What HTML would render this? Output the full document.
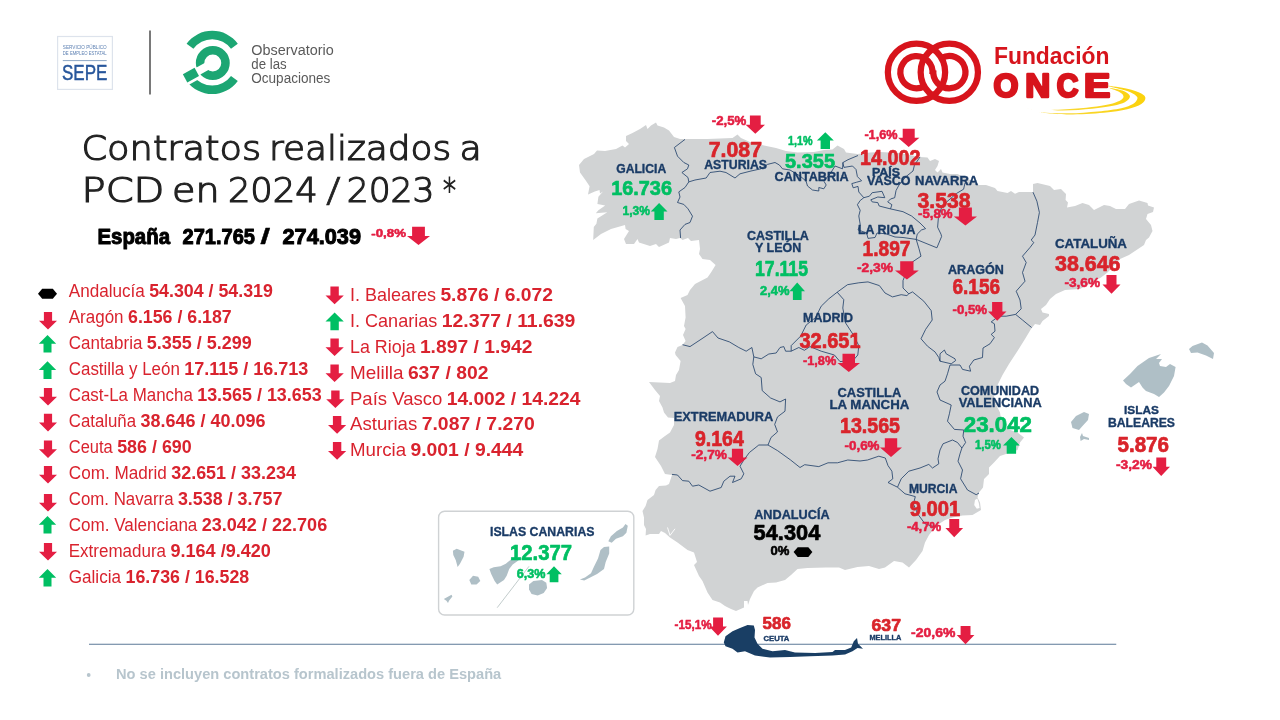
<!DOCTYPE html>
<html lang="es"><head><meta charset="utf-8"><title>Contratos realizados a PCD en 2024 / 2023</title>
<style>
html,body{margin:0;padding:0;background:#fff}
body{width:1280px;height:720px;overflow:hidden}
svg{display:block}
text{font-family:"Liberation Sans",sans-serif;white-space:pre}
text.dv{font-family:"DejaVu Sans",sans-serif}
</style></head><body>
<svg width="1280" height="720" viewBox="0 0 1280 720">
<polygon fill="#d1d3d4" points="593.2,239.9 593.8,226.9 596.4,223.8 597.4,218.5 607.3,212.3 595.8,213.3 598.4,210.2 605.2,205.5 597.4,204 598.4,196.7 603,191.5 600,193.5 599.5,190 594.8,191.5 588,194.6 589.6,186.2 585.4,180 580,172.5 579,165 584,159 594,154 597,150.6 605,151 616,149 622.5,145.6 625,147.5 629,144 626,141 626,136 632.5,133 640,129 646,125 647.5,129 651,125.6 656,122.5 657.5,125.6 664,127.5 669,130.6 674,137 680,139 685,139 695,139 707.5,139 720,138.5 732.5,138 737.5,134.4 741,138 751,142.5 764,145.6 776,148 786,151 797.5,152.5 814,152 824,150 832.5,149.4 837.5,145.6 844,149 846,152.5 857.5,154 870,152.5 880,152 900,153 920,157 927.5,157.5 930,161 935,159 939,161 937.5,166 935,170 937.5,172.5 941,169 942.5,172.5 950,174 957.5,174 970,180 979,185 986,185 995,188 997.5,191 1007.5,193 1011,191 1015,193.8 1019,192 1033,192 1033,184 1037.5,183 1050,186 1054,190 1061,189 1066,194 1065.6,200 1068,202.5 1067,207.5 1075,206 1082.5,203 1089,205 1094,210 1104,205 1110,206 1116,209 1125,209 1129,204 1139,200.6 1147.5,203 1148,205.6 1154,207.5 1153,212 1147.5,214 1146,219 1151,225 1152.5,231 1149,237.5 1146,240 1144,245 1135,251 1129,255 1120,259 1107.5,272.5 1101,277.5 1080,289 1065,290 1056,294 1050,299 1046,305 1041,309 1042.5,312.5 1049,314 1049,316 1042.5,321 1040,325 1035,324 1031,329 1025,339 1017.5,351 1009,364 1002.5,375 997.5,385 994,395 994,400 997.5,407.5 1000,412.5 1001,419 1007.5,429 1017.5,432.5 1024,437.5 1020,442.5 1017.5,450 1006,454 1000,456 994,462.5 989,467.5 989,474 984,479 983,487.5 979,492.5 977.5,497.5 980,502.5 981,510 972.5,515 962.5,515.6 952.5,517.5 945,520 936,526 929,535 925,542.5 922.5,551 916,560 909,567.5 902.5,562.5 894,561 885,567.5 879,569 869,566 857.5,567 845,570 839,567.5 826,567.5 807.5,568 797.5,569 791,575 785,580 776,582.5 767.5,583 757.5,587.5 754,591 750,599 748,605 747.5,601 744,601 744,607.5 736,611 731,609 725,606 720,602.5 712.5,600 707.5,592.5 702.5,581 699,576 694,565 697,562 694,552.5 687.5,550 677.5,542.5 670,537.5 665,533 661,531 659,534 650,534 645.6,535.6 646,529 644,525 644,517.5 642.5,511 645.6,506 647.5,500 654,495 655.6,490 659,486 666,485.6 669,484 672,475 665,474 661,466 655,457 657.5,449 659,440.6 665,436 670,432.5 674,425 674,418 668,417.5 664,412.5 662.5,407.5 659,401 660,396 655,390 649,382 670,383 675,381 676,375 679,370 680.6,361 675.6,355 675,352.5 677.5,347 682.5,345 685.6,341 683,335 685.6,329 684,326 685.6,317.5 685,306 680.6,298 687.5,295 690,290 695,284 707.5,277.5 711,272.5 715.6,265 710,260 702.5,259 699,254 700,249 699,240 691,241 688,238 682.5,240 680,238 676,239 670,238 669,242.5 659,247 656,244 650,246 639,242.5 637.5,239 634,244 626,244 624,239 629,231 625.6,229 625,225 611,229 601,234"/>
<polygon fill="#afbfc6" points="1123,380.6 1130,374 1137.5,366 1149,358 1161,354 1156,359 1162,359 1159,363 1160,366 1166,367 1170,364 1175.6,367 1174,376 1169,386 1164,392.5 1159,397 1154,394 1146,391 1142.5,387.5 1139,382 1131,387.5 1126,384"/>
<polygon fill="#afbfc6" points="1189,349 1192.5,346 1202,342.5 1207.5,345.6 1214,353 1213,359 1206,355.6 1197.5,352.5 1191,353"/>
<polygon fill="#afbfc6" points="1071,422 1076,416 1084,412 1089,414 1088,420 1082.5,426 1079,430 1072.5,428"/>
<polygon fill="#afbfc6" points="1082,433 1083,436 1089,438 1089,440 1084,439 1080.6,441 1080,437"/>
<polygon fill="#afbfc6" points="452.9,550.8 456.7,548.8 464.5,551.7 463.6,556.8 460,563.7 457.6,567 455.8,560.3 453.3,555"/>
<polygon fill="#afbfc6" points="469.3,580 473,575.8 478.2,576.7 480.3,581 476.5,584.4 471.3,584.4"/>
<polygon fill="#afbfc6" points="443.8,599 451.5,594.7 452.4,596.5 449,600.8 448,603 446.4,600.8"/>
<polygon fill="#afbfc6" points="489.4,568.9 493.7,567.2 500.6,566.3 505.8,563.7 511,559.4 516.1,557.7 518.7,560.3 512.7,564.6 509.2,568.9 506.7,575.8 504,580.1 497.2,584.4 494.6,581 491.2,574"/>
<polygon fill="#afbfc6" points="529,584.4 533.4,581 542,580.1 546.3,582.7 547.1,587.9 543.7,593 537.7,595.6 531.6,593.9 529,589.6"/>
<polygon fill="#afbfc6" points="579.9,579.6 585,577.5 591,573.2 593.7,567.2 598,558.6 600.5,550 604,546.9 609.2,546.5 609.2,553.4 605.7,562 604,568.9 597.1,574.1 590.2,577.5 584.2,580.6"/>
<polygon fill="#afbfc6" points="608.3,541.3 610.9,536.2 616.9,531 622.9,527.6 625.5,524.1 627.8,525.8 626.4,532.7 622.9,536.2 616,538.8 611.7,542.7"/>
<polyline fill="none" stroke="#1a3b66" stroke-width="0.8" stroke-linejoin="round" points="685,139.4 674.4,147.5 677.5,156.2 683.8,162.5 688.8,165 687.5,168.8 681.9,172.5 688,177.5 688.8,181.9 685,187.5 678.8,191.9 680,197 677.5,202.5 683.8,204.4 688,208.8 692.5,216.2 690,222.5 685,224.4 680,230 680.6,238"/>
<polyline fill="none" stroke="#1a3b66" stroke-width="0.8" stroke-linejoin="round" points="688.8,181.9 695,180 706.2,178 710,172.5 720,171.2 726,172.5 735,178 740,173.8 751,171 761,168.8 767.5,164.4 775,162.5 779.4,165 782.5,168.8 790,170 800,176 806,181 807.5,186 812.5,190 818.8,191 818.8,187.5 823.8,188.8 826.2,185 823.8,181 830,174 835,166 842.5,168.8 843,162.5 848,159.7 858,155.5"/>
<polyline fill="none" stroke="#1a3b66" stroke-width="0.8" stroke-linejoin="round" points="842.7,162.5 844,167.4 852.5,166 856,169.5 857.4,176.6 861.6,180.8 856.7,182.2 851.8,183.6 853.2,187.8 858,186.4 858.8,192 863.8,197.7 860.2,200.5 857.4,204.7 860.2,210.3 858.8,216 860.2,224.4 858,230 866.6,232.8 868,238.4 875,237.5 877,233 886,233.8 895,237 903,237.5 916.2,239.4"/>
<polyline fill="none" stroke="#1a3b66" stroke-width="0.8" stroke-linejoin="round" points="863.8,197.7 869.4,196.2 872.2,192.7 882,191.3 884.8,197.7 877.8,197 870.8,199.8 872.2,201.9 877.8,202.6 879.2,206 890.5,208.9 891.9,204.7 887.7,201.9 890.5,199 894.7,197.7 896,190.6 899,185 906,176.6 913,171 914.4,165.3 920,156.9"/>
<polyline fill="none" stroke="#1a3b66" stroke-width="0.8" stroke-linejoin="round" points="890.5,208.9 903,211.7 911.6,216 920,223 925.6,228.6 921.4,230 917.2,234.2 916.2,239.4 936.9,247.8 941.6,236.5 941,234.2 937.6,227.2 938.3,218.8 941,208.9 946.7,201.9 956.6,193.4 963.6,189.2 965,183"/>
<polyline fill="none" stroke="#1a3b66" stroke-width="0.8" stroke-linejoin="round" points="916.2,239.4 919,248.8 921,256.2 912.5,261.9 907,270 903,280.6 903,288 908.8,293.8"/>
<polyline fill="none" stroke="#1a3b66" stroke-width="0.8" stroke-linejoin="round" points="908.8,293.8 906.9,295.6 901.2,294.7 892.5,296.9 885,293 879.4,285.6 868,281.9 858.8,282.8 847.5,284.7 837.2,292.2"/>
<polyline fill="none" stroke="#1a3b66" stroke-width="0.8" stroke-linejoin="round" points="837.2,292.2 828.8,298.8 821.2,306.2 815.6,317.5 806.2,325 800.6,336.2 791.2,345.6 791.2,351.2 798.8,347.5 804.4,350.3 810,346.6 821.2,351.2 834.4,355 840,361.6 853,360.6 857.8,355 858.8,345.6 853,334.4 845.6,323 842.8,308 843.8,299.7 837.2,292.2"/>
<polyline fill="none" stroke="#1a3b66" stroke-width="0.8" stroke-linejoin="round" points="791.2,351.2 785.6,351.2 783.8,346.6 780,347.5 776.2,353 768.8,354 761.2,358.8 753.8,356.9 751.9,347.5 746.2,351.2 738.8,347.5 729.4,341.9 718,338 712.5,331.6 703,338 690,346.6 682.5,344.7"/>
<polyline fill="none" stroke="#1a3b66" stroke-width="0.8" stroke-linejoin="round" points="753.8,356.9 752.8,364.4 755.6,373.8 761.2,377.5 762.2,390.6 770.6,398 780,401.9 785.6,399 785,411.2 777.5,416.9 774.7,424.4 777.5,431.9 771,437.5 768,445"/>
<polyline fill="none" stroke="#1a3b66" stroke-width="0.8" stroke-linejoin="round" points="768,445 758.8,445 749.4,452.5 743.8,460 740,466.2 743.8,473.8 741.2,478.8 732.5,482.5 735,476.2 730,476.2 723.8,481.2 721.2,487.5 710,491.2 698.8,485 692.5,486.2 688.8,481.2 682.5,480.6 677.5,475 672,474.4"/>
<polyline fill="none" stroke="#1a3b66" stroke-width="0.8" stroke-linejoin="round" points="768,445 777.5,450.6 790.6,460 800,467.5 804.7,464.7 818.8,466.6 828,462.8 837.5,462.8 847.8,460 860,461 867.5,460 878.8,456.2 885.3,458 888,465.6 891.9,471.2 892.8,478.8 888,482.5 897.5,487.2"/>
<polyline fill="none" stroke="#1a3b66" stroke-width="0.8" stroke-linejoin="round" points="897.5,487.2 905,493.8 915.3,496.6 913.4,504 918,514.4 925,523.8 932,526.2 936,526"/>
<polyline fill="none" stroke="#1a3b66" stroke-width="0.8" stroke-linejoin="round" points="897.5,487.2 901.2,478.8 908.8,471.2 920,468 928.8,464.4 932.5,468 938.8,463.8 938,458.8 940,450 943,443.8 952.5,440 957.5,442.5 961.9,448"/>
<polyline fill="none" stroke="#1a3b66" stroke-width="0.8" stroke-linejoin="round" points="961.9,448 960,453.8 958,461.2 962.5,470 960.6,478.8 967.5,490 976.2,494.7 979,493"/>
<polyline fill="none" stroke="#1a3b66" stroke-width="0.8" stroke-linejoin="round" points="961.9,448 965.6,442.5 963,436.2 963.8,430 954.4,429.4 947.5,421.2 949.4,413.8 951.2,405 940,400 937,392 940,385 945,381.2 947.5,373.8 950,365"/>
<polyline fill="none" stroke="#1a3b66" stroke-width="0.8" stroke-linejoin="round" points="940,361.2 951.2,363.8 955.6,360.6 955,358.8 946.2,353.8 944.4,350 940,353.8 940,361.2"/>
<polyline fill="none" stroke="#1a3b66" stroke-width="0.8" stroke-linejoin="round" points="950,365 960,365 962.5,369.4 970.6,371.2 969.4,366.2 973.8,360 982.5,357.5 983,348 990,343.8 994.4,337.5 991.2,334.4 995,331.2 994.4,323.8 991.2,321.9 998.8,316.2 1006.2,316.2 1015.6,314.4"/>
<polyline fill="none" stroke="#1a3b66" stroke-width="0.8" stroke-linejoin="round" points="1033,192.2 1036.9,201.2 1039.4,212.5 1037.5,222.5 1035,235 1031.2,240 1033.8,242.5 1030,247.5 1022.5,256.2 1026.2,262.5 1022.5,272.5 1025,281.2 1016.2,291.2 1020,300 1021.2,308.8 1015.6,314.4 1022.5,320 1031.6,327.5"/>
<polyline fill="none" stroke="#1a3b66" stroke-width="0.8" stroke-linejoin="round" points="908.8,293.8 912.5,291.9 923.8,301.2 931.2,310.6 932.2,320 925.6,329.4 921,338.8 927.5,346.2 935,351.9 938.8,357.5 940,361.2"/>
<polygon fill="#fff" points="975,500 977.3,498.6 978.8,503 979.6,508 976.8,508.8 974.2,505"/>
<path d="M667.5,527.5 L670,535.4 L675,528.8" fill="none" stroke="#fff" stroke-width="0.9"/>
<rect x="438.6" y="511.2" width="195.2" height="103.8" rx="6" fill="none" stroke="#cfd2d4" stroke-width="1.4"/>
<line x1="529" y1="566.3" x2="497.2" y2="607.7" stroke="#9aa" stroke-width="0.6"/>
<line x1="89" y1="644.25" x2="1116.25" y2="644.25" stroke="#5b7897" stroke-width="1.2"/>
<polygon fill="#193e64" points="723.8,642.5 725.5,636.2 732.5,631.2 740,628 747.5,625 753.8,625.5 755,630 754.5,637.5 757.5,643.8 762.5,648.8 772.5,651.2 785,650 795,652.5 815,653 832.5,652 835,650 845,650 851.2,647.5 853.8,641.2 857,638 858,643.8 863,648.8 857.5,648 852.5,651.2 845,654.5 832.5,655.5 810,656.2 790,657 770,657.5 755,655.5 745,651.2 737.5,652.5 732.5,648.8 725.5,646.2"/>
<text x="616.2" y="173" font-size="13.1" fill="#1a3b66" font-weight="700" textLength="50.0" lengthAdjust="spacingAndGlyphs" stroke="#1a3b66" stroke-width="0.35" stroke-linejoin="round">GALICIA</text>
<text x="704.2" y="168.8" font-size="12.4" fill="#1a3b66" font-weight="700" textLength="62.8" lengthAdjust="spacingAndGlyphs" stroke="#1a3b66" stroke-width="0.35" stroke-linejoin="round">ASTURIAS</text>
<text x="774.5" y="181.2" font-size="13.1" fill="#1a3b66" font-weight="700" textLength="74.2" lengthAdjust="spacingAndGlyphs" stroke="#1a3b66" stroke-width="0.35" stroke-linejoin="round">CANTABRIA</text>
<text x="872" y="175.5" font-size="11.3" fill="#1a3b66" font-weight="700" textLength="28" lengthAdjust="spacingAndGlyphs" stroke="#1a3b66" stroke-width="0.35" stroke-linejoin="round">PAÍS</text>
<text x="867" y="185" font-size="12.4" fill="#1a3b66" font-weight="700" textLength="43.5" lengthAdjust="spacingAndGlyphs" stroke="#1a3b66" stroke-width="0.35" stroke-linejoin="round">VASCO</text>
<text x="915" y="185" font-size="12.4" fill="#1a3b66" font-weight="700" textLength="63.2" lengthAdjust="spacingAndGlyphs" stroke="#1a3b66" stroke-width="0.35" stroke-linejoin="round">NAVARRA</text>
<text x="858" y="234.2" font-size="13.1" fill="#1a3b66" font-weight="700" textLength="57.5" lengthAdjust="spacingAndGlyphs" stroke="#1a3b66" stroke-width="0.35" stroke-linejoin="round">LA RIOJA</text>
<text x="747" y="240" font-size="13.1" fill="#1a3b66" font-weight="700" textLength="61.8" lengthAdjust="spacingAndGlyphs" stroke="#1a3b66" stroke-width="0.35" stroke-linejoin="round">CASTILLA</text>
<text x="755" y="252" font-size="12.8" fill="#1a3b66" font-weight="700" textLength="46.2" lengthAdjust="spacingAndGlyphs" stroke="#1a3b66" stroke-width="0.35" stroke-linejoin="round">Y LEÓN</text>
<text x="948" y="273.8" font-size="12.8" fill="#1a3b66" font-weight="700" textLength="55.8" lengthAdjust="spacingAndGlyphs" stroke="#1a3b66" stroke-width="0.35" stroke-linejoin="round">ARAGÓN</text>
<text x="1055" y="248" font-size="13.1" fill="#1a3b66" font-weight="700" textLength="72" lengthAdjust="spacingAndGlyphs" stroke="#1a3b66" stroke-width="0.35" stroke-linejoin="round">CATALUÑA</text>
<text x="803" y="322" font-size="13.5" fill="#1a3b66" font-weight="700" textLength="50" lengthAdjust="spacingAndGlyphs" stroke="#1a3b66" stroke-width="0.35" stroke-linejoin="round">MADRID</text>
<text x="837.5" y="397" font-size="12.8" fill="#1a3b66" font-weight="700" textLength="63.8" lengthAdjust="spacingAndGlyphs" stroke="#1a3b66" stroke-width="0.35" stroke-linejoin="round">CASTILLA</text>
<text x="829.5" y="408.8" font-size="13.1" fill="#1a3b66" font-weight="700" textLength="79.8" lengthAdjust="spacingAndGlyphs" stroke="#1a3b66" stroke-width="0.35" stroke-linejoin="round">LA MANCHA</text>
<text x="673.8" y="421.2" font-size="13.1" fill="#1a3b66" font-weight="700" textLength="99.5" lengthAdjust="spacingAndGlyphs" stroke="#1a3b66" stroke-width="0.35" stroke-linejoin="round">EXTREMADURA</text>
<text x="961" y="394.7" font-size="12.2" fill="#1a3b66" font-weight="700" textLength="78" lengthAdjust="spacingAndGlyphs" stroke="#1a3b66" stroke-width="0.35" stroke-linejoin="round">COMUNIDAD</text>
<text x="958.7" y="406.5" font-size="12.8" fill="#1a3b66" font-weight="700" textLength="83.0" lengthAdjust="spacingAndGlyphs" stroke="#1a3b66" stroke-width="0.35" stroke-linejoin="round">VALENCIANA</text>
<text x="754.2" y="519" font-size="13.6" fill="#1a3b66" font-weight="700" textLength="75.4" lengthAdjust="spacingAndGlyphs" stroke="#1a3b66" stroke-width="0.35" stroke-linejoin="round">ANDALUCÍA</text>
<text x="908.9" y="493.2" font-size="13.2" fill="#1a3b66" font-weight="700" textLength="48.6" lengthAdjust="spacingAndGlyphs" stroke="#1a3b66" stroke-width="0.35" stroke-linejoin="round">MURCIA</text>
<text x="1124" y="414" font-size="11.8" fill="#1a3b66" font-weight="700" textLength="35" lengthAdjust="spacingAndGlyphs" stroke="#1a3b66" stroke-width="0.35" stroke-linejoin="round">ISLAS</text>
<text x="1108" y="427" font-size="12.8" fill="#1a3b66" font-weight="700" textLength="67" lengthAdjust="spacingAndGlyphs" stroke="#1a3b66" stroke-width="0.35" stroke-linejoin="round">BALEARES</text>
<text x="490" y="536.2" font-size="13.5" fill="#1a3b66" font-weight="700" textLength="104.5" lengthAdjust="spacingAndGlyphs" stroke="#1a3b66" stroke-width="0.35" stroke-linejoin="round">ISLAS CANARIAS</text>
<text x="763.5" y="641.4" font-size="7.1" fill="#1a3b66" font-weight="700" textLength="25.9" lengthAdjust="spacingAndGlyphs" stroke="#1a3b66" stroke-width="0.35" stroke-linejoin="round">CEUTA</text>
<text x="869.5" y="640" font-size="7.1" fill="#1a3b66" font-weight="700" textLength="31.8" lengthAdjust="spacingAndGlyphs" stroke="#1a3b66" stroke-width="0.35" stroke-linejoin="round">MELILLA</text>
<text x="611.2" y="194.5" font-size="21.0" fill="#00bf63" font-weight="700" textLength="60.8" lengthAdjust="spacingAndGlyphs" stroke="#00bf63" stroke-width="0.7" stroke-linejoin="round">16.736</text>
<text x="708.8" y="157" font-size="21.7" fill="#d9242b" font-weight="700" textLength="53.2" lengthAdjust="spacingAndGlyphs" stroke="#d9242b" stroke-width="0.7" stroke-linejoin="round">7.087</text>
<text x="785" y="167.5" font-size="21.0" fill="#00bf63" font-weight="700" textLength="50" lengthAdjust="spacingAndGlyphs" stroke="#00bf63" stroke-width="0.7" stroke-linejoin="round">5.355</text>
<text x="860" y="165" font-size="21.7" fill="#d9242b" font-weight="700" textLength="60.5" lengthAdjust="spacingAndGlyphs" stroke="#d9242b" stroke-width="0.7" stroke-linejoin="round">14.002</text>
<text x="917.5" y="207.5" font-size="21.7" fill="#d9242b" font-weight="700" textLength="53.0" lengthAdjust="spacingAndGlyphs" stroke="#d9242b" stroke-width="0.7" stroke-linejoin="round">3.538</text>
<text x="862.5" y="256.2" font-size="21.7" fill="#d9242b" font-weight="700" textLength="48.0" lengthAdjust="spacingAndGlyphs" stroke="#d9242b" stroke-width="0.7" stroke-linejoin="round">1.897</text>
<text x="755" y="276.2" font-size="21.7" fill="#00bf63" font-weight="700" textLength="53" lengthAdjust="spacingAndGlyphs" stroke="#00bf63" stroke-width="0.7" stroke-linejoin="round">17.115</text>
<text x="952.5" y="293.8" font-size="21.7" fill="#d9242b" font-weight="700" textLength="47.5" lengthAdjust="spacingAndGlyphs" stroke="#d9242b" stroke-width="0.7" stroke-linejoin="round">6.156</text>
<text x="1055" y="271.2" font-size="21.7" fill="#d9242b" font-weight="700" textLength="65.5" lengthAdjust="spacingAndGlyphs" stroke="#d9242b" stroke-width="0.7" stroke-linejoin="round">38.646</text>
<text x="799.5" y="348" font-size="21.7" fill="#d9242b" font-weight="700" textLength="61.0" lengthAdjust="spacingAndGlyphs" stroke="#d9242b" stroke-width="0.7" stroke-linejoin="round">32.651</text>
<text x="840" y="432.5" font-size="21.7" fill="#d9242b" font-weight="700" textLength="60" lengthAdjust="spacingAndGlyphs" stroke="#d9242b" stroke-width="0.7" stroke-linejoin="round">13.565</text>
<text x="695" y="445.8" font-size="21.7" fill="#d9242b" font-weight="700" textLength="48.8" lengthAdjust="spacingAndGlyphs" stroke="#d9242b" stroke-width="0.7" stroke-linejoin="round">9.164</text>
<text x="963.8" y="431.9" font-size="21.3" fill="#00bf63" font-weight="700" textLength="68.1" lengthAdjust="spacingAndGlyphs" stroke="#00bf63" stroke-width="0.7" stroke-linejoin="round">23.042</text>
<text x="753.6" y="540.1" font-size="21.7" fill="#000" font-weight="700" textLength="66.7" lengthAdjust="spacingAndGlyphs" stroke="#000" stroke-width="0.7" stroke-linejoin="round">54.304</text>
<text x="909.7" y="516.2" font-size="21.2" fill="#d9242b" font-weight="700" textLength="50.6" lengthAdjust="spacingAndGlyphs" stroke="#d9242b" stroke-width="0.7" stroke-linejoin="round">9.001</text>
<text x="1117.5" y="452" font-size="21.7" fill="#d9242b" font-weight="700" textLength="51.5" lengthAdjust="spacingAndGlyphs" stroke="#d9242b" stroke-width="0.7" stroke-linejoin="round">5.876</text>
<text x="510" y="560.3" font-size="22.5" fill="#00bf63" font-weight="700" textLength="62" lengthAdjust="spacingAndGlyphs" stroke="#00bf63" stroke-width="0.7" stroke-linejoin="round">12.377</text>
<text x="762.6" y="629.3" font-size="17.1" fill="#d9242b" font-weight="700" textLength="28.2" lengthAdjust="spacingAndGlyphs" stroke="#d9242b" stroke-width="0.7" stroke-linejoin="round">586</text>
<text x="871.5" y="630.7" font-size="17.1" fill="#d9242b" font-weight="700" textLength="29.5" lengthAdjust="spacingAndGlyphs" stroke="#d9242b" stroke-width="0.7" stroke-linejoin="round">637</text>
<text x="622.5" y="215" font-size="12.8" fill="#00bf63" font-weight="700" textLength="27.5" lengthAdjust="spacingAndGlyphs" stroke="#00bf63" stroke-width="0.55" stroke-linejoin="round">1,3%</text>
<polygon fill="#00bf63" points="654.4,220.0 663.8,220.0 663.8,211.5 667.5,211.5 659.1,203.0 650.8,211.5 654.4,211.5"/>
<text x="711.8" y="125.2" font-size="12.8" fill="#e41e42" font-weight="700" textLength="34.5" lengthAdjust="spacingAndGlyphs" stroke="#e41e42" stroke-width="0.55" stroke-linejoin="round">-2,5%</text>
<polygon fill="#e41e42" points="749.9,115.6 760.7,115.6 760.7,124.7 765.0,124.7 755.3,133.8 745.6,124.7 749.9,124.7"/>
<text x="788" y="145" font-size="12.8" fill="#00bf63" font-weight="700" textLength="24.5" lengthAdjust="spacingAndGlyphs" stroke="#00bf63" stroke-width="0.55" stroke-linejoin="round">1,1%</text>
<polygon fill="#00bf63" points="820.6,149.0 830.0,149.0 830.0,140.6 833.8,140.6 825.3,132.2 816.9,140.6 820.6,140.6"/>
<text x="864.4" y="139.4" font-size="12.8" fill="#e41e42" font-weight="700" textLength="33.1" lengthAdjust="spacingAndGlyphs" stroke="#e41e42" stroke-width="0.55" stroke-linejoin="round">-1,6%</text>
<polygon fill="#e41e42" points="902.7,128.8 914.7,128.8 914.7,137.8 919.4,137.8 908.7,146.9 898.0,137.8 902.7,137.8"/>
<text x="918" y="218.3" font-size="12.8" fill="#e41e42" font-weight="700" textLength="34.5" lengthAdjust="spacingAndGlyphs" stroke="#e41e42" stroke-width="0.55" stroke-linejoin="round">-5,8%</text>
<polygon fill="#e41e42" points="958.9,207.5 971.9,207.5 971.9,216.5 977.0,216.5 965.4,225.5 953.8,216.5 958.9,216.5"/>
<text x="857" y="272" font-size="12.8" fill="#e41e42" font-weight="700" textLength="36" lengthAdjust="spacingAndGlyphs" stroke="#e41e42" stroke-width="0.55" stroke-linejoin="round">-2,3%</text>
<polygon fill="#e41e42" points="900.2,261.2 913.5,261.2 913.5,270.4 918.8,270.4 906.9,279.5 895.0,270.4 900.2,270.4"/>
<text x="760" y="295" font-size="12.8" fill="#00bf63" font-weight="700" textLength="29.5" lengthAdjust="spacingAndGlyphs" stroke="#00bf63" stroke-width="0.55" stroke-linejoin="round">2,4%</text>
<polygon fill="#00bf63" points="792.9,300.0 801.6,300.0 801.6,291.2 805.0,291.2 797.2,282.5 789.5,291.2 792.9,291.2"/>
<text x="952.5" y="313.5" font-size="12.8" fill="#e41e42" font-weight="700" textLength="34.5" lengthAdjust="spacingAndGlyphs" stroke="#e41e42" stroke-width="0.55" stroke-linejoin="round">-0,5%</text>
<polygon fill="#e41e42" points="992.1,302.0 1002.4,302.0 1002.4,311.4 1006.5,311.4 997.2,320.8 988.0,311.4 992.1,311.4"/>
<text x="1064.5" y="286.5" font-size="12.8" fill="#e41e42" font-weight="700" textLength="35.5" lengthAdjust="spacingAndGlyphs" stroke="#e41e42" stroke-width="0.55" stroke-linejoin="round">-3,6%</text>
<polygon fill="#e41e42" points="1106.5,275.0 1116.5,275.0 1116.5,284.4 1120.5,284.4 1111.5,293.8 1102.5,284.4 1106.5,284.4"/>
<text x="803" y="364.8" font-size="12.8" fill="#e41e42" font-weight="700" textLength="33.2" lengthAdjust="spacingAndGlyphs" stroke="#e41e42" stroke-width="0.55" stroke-linejoin="round">-1,8%</text>
<polygon fill="#e41e42" points="842.5,353.8 855.0,353.8 855.0,362.9 860.0,362.9 848.8,372.0 837.5,362.9 842.5,362.9"/>
<text x="844.5" y="449.8" font-size="12.8" fill="#e41e42" font-weight="700" textLength="35.0" lengthAdjust="spacingAndGlyphs" stroke="#e41e42" stroke-width="0.55" stroke-linejoin="round">-0,6%</text>
<polygon fill="#e41e42" points="884.8,438.2 897.2,438.2 897.2,447.6 902.0,447.6 891.0,457.0 880.0,447.6 884.8,447.6"/>
<text x="691.2" y="459" font-size="12.8" fill="#e41e42" font-weight="700" textLength="35.8" lengthAdjust="spacingAndGlyphs" stroke="#e41e42" stroke-width="0.55" stroke-linejoin="round">-2,7%</text>
<polygon fill="#e41e42" points="731.9,448.8 743.1,448.8 743.1,457.4 747.5,457.4 737.5,466.0 727.5,457.4 731.9,457.4"/>
<text x="975" y="448.7" font-size="12.8" fill="#00bf63" font-weight="700" textLength="26" lengthAdjust="spacingAndGlyphs" stroke="#00bf63" stroke-width="0.55" stroke-linejoin="round">1,5%</text>
<polygon fill="#00bf63" points="1006.7,453.8 1016.1,453.8 1016.1,445.4 1019.8,445.4 1011.4,437.0 1003.0,445.4 1006.7,445.4"/>
<text x="906.9" y="530.7" font-size="12.8" fill="#e41e42" font-weight="700" textLength="34.3" lengthAdjust="spacingAndGlyphs" stroke="#e41e42" stroke-width="0.55" stroke-linejoin="round">-4,7%</text>
<polygon fill="#e41e42" points="949.3,519.0 959.2,519.0 959.2,528.1 963.1,528.1 954.2,537.3 945.4,528.1 949.3,528.1"/>
<text x="1116" y="468.5" font-size="12.8" fill="#e41e42" font-weight="700" textLength="36" lengthAdjust="spacingAndGlyphs" stroke="#e41e42" stroke-width="0.55" stroke-linejoin="round">-3,2%</text>
<polygon fill="#e41e42" points="1156.3,457.5 1166.2,457.5 1166.2,466.8 1170.0,466.8 1161.2,476.0 1152.5,466.8 1156.3,466.8"/>
<text x="516.7" y="578" font-size="12.8" fill="#00bf63" font-weight="700" textLength="28.7" lengthAdjust="spacingAndGlyphs" stroke="#00bf63" stroke-width="0.55" stroke-linejoin="round">6,3%</text>
<polygon fill="#00bf63" points="549.7,582.3 558.4,582.3 558.4,574.3 561.8,574.3 554.0,566.3 546.3,574.3 549.7,574.3"/>
<text x="674.6" y="628.6" font-size="12.8" fill="#e41e42" font-weight="700" textLength="36.9" lengthAdjust="spacingAndGlyphs" stroke="#e41e42" stroke-width="0.55" stroke-linejoin="round">-15,1%</text>
<polygon fill="#e41e42" points="713.1,617.5 723.0,617.5 723.0,626.6 726.9,626.6 718.0,635.8 709.2,626.6 713.1,626.6"/>
<text x="911.1" y="637.4" font-size="12.8" fill="#e41e42" font-weight="700" textLength="44.2" lengthAdjust="spacingAndGlyphs" stroke="#e41e42" stroke-width="0.55" stroke-linejoin="round">-20,6%</text>
<polygon fill="#e41e42" points="960.6,625.9 970.5,625.9 970.5,635.0 974.4,635.0 965.5,644.2 956.7,635.0 960.6,635.0"/>
<text x="371.3" y="237" font-size="11.6" fill="#e41e42" font-weight="700" textLength="34.7" lengthAdjust="spacingAndGlyphs" stroke="#e41e42" stroke-width="0.55" stroke-linejoin="round">-0,8%</text>
<polygon fill="#e41e42" points="412.1,226.8 424.9,226.8 424.9,235.9 430.0,235.9 418.5,245.0 407.0,235.9 412.1,235.9"/>
<text x="770.5" y="554.8" font-size="12.3" fill="#000" font-weight="700" textLength="18.9" lengthAdjust="spacingAndGlyphs" stroke="#000" stroke-width="0.55" stroke-linejoin="round">0%</text>
<polygon fill="#000" points="793.6,552.1 797.7,547.2 808.3,547.2 812.4,552.1 808.3,557.0 797.7,557.0"/>
<text x="81.4" y="160.2" font-size="34.6" font-weight="200" fill="#222" stroke="#222" stroke-width="1.2" textLength="179.8" lengthAdjust="spacingAndGlyphs" class="dv">Contratos</text>
<text x="269.0" y="160.2" font-size="34.6" font-weight="200" fill="#222" stroke="#222" stroke-width="1.2" textLength="182.1" lengthAdjust="spacingAndGlyphs" class="dv">realizados</text>
<text x="459.6" y="160.2" font-size="34.6" font-weight="200" fill="#222" stroke="#222" stroke-width="1.2" textLength="22.2" lengthAdjust="spacingAndGlyphs" class="dv">a</text>
<text x="81.5" y="202.4" font-size="34.6" font-weight="200" fill="#222" stroke="#222" stroke-width="1.2" textLength="82.9" lengthAdjust="spacingAndGlyphs" class="dv">PCD</text>
<text x="172.1" y="202.4" font-size="34.6" font-weight="200" fill="#222" stroke="#222" stroke-width="1.2" textLength="47.5" lengthAdjust="spacingAndGlyphs" class="dv">en</text>
<text x="227.9" y="202.4" font-size="34.6" font-weight="200" fill="#222" stroke="#222" stroke-width="1.2" textLength="89.9" lengthAdjust="spacingAndGlyphs" class="dv">2024</text>
<text x="326.0" y="202.4" font-size="34.6" font-weight="200" fill="#222" stroke="#222" stroke-width="0.7" textLength="14.7" lengthAdjust="spacingAndGlyphs" class="dv">/</text>
<text x="346.7" y="202.4" font-size="34.6" font-weight="200" fill="#222" stroke="#222" stroke-width="1.2" textLength="87.8" lengthAdjust="spacingAndGlyphs" class="dv">2023</text>
<text x="443.0" y="202.4" font-size="34.6" font-weight="200" fill="#222" stroke="#222" stroke-width="1.2" textLength="13.0" lengthAdjust="spacingAndGlyphs" class="dv">*</text>
<text x="97.5" y="244.3" font-size="21.7" font-weight="700" fill="#000" stroke="#000" stroke-width="1" stroke-linejoin="round" textLength="72.5" lengthAdjust="spacingAndGlyphs">España</text>
<text x="182.5" y="244.3" font-size="21.7" font-weight="700" fill="#000" stroke="#000" stroke-width="1" stroke-linejoin="round" textLength="72.5" lengthAdjust="spacingAndGlyphs">271.765</text>
<text x="260.3" y="244.3" font-size="21.7" font-weight="700" fill="#000" stroke="#000" stroke-width="0.3" stroke-linejoin="round" textLength="10.0" lengthAdjust="spacingAndGlyphs">/</text>
<text x="282.5" y="244.3" font-size="21.7" font-weight="700" fill="#000" stroke="#000" stroke-width="1" stroke-linejoin="round" textLength="78.5" lengthAdjust="spacingAndGlyphs">274.039</text>
<text x="68.75" y="297" font-size="17.5" fill="#d9232e" textLength="76.1" lengthAdjust="spacingAndGlyphs">Andalucía</text>
<text x="149.2" y="297" font-size="17.5" font-weight="700" fill="#d9232e" textLength="123.7" lengthAdjust="spacingAndGlyphs">54.304 / 54.319</text>
<polygon fill="#000" points="38.0,293.8 42.2,288.8 52.8,288.8 57.0,293.8 52.8,298.8 42.2,298.8"/>
<text x="68.75" y="322.5" font-size="17.5" fill="#d9232e" textLength="54.8" lengthAdjust="spacingAndGlyphs">Aragón</text>
<text x="128.0" y="322.5" font-size="17.5" font-weight="700" fill="#d9232e" textLength="103.7" lengthAdjust="spacingAndGlyphs">6.156 / 6.187</text>
<polygon fill="#e41e42" points="43.9,312.0 52.1,312.0 52.1,320.8 57.0,320.8 48.0,329.6 39.0,320.8 43.9,320.8"/>
<text x="68.75" y="348.75" font-size="17.5" fill="#d9232e" textLength="73.6" lengthAdjust="spacingAndGlyphs">Cantabria</text>
<text x="146.7" y="348.75" font-size="17.5" font-weight="700" fill="#d9232e" textLength="105.0" lengthAdjust="spacingAndGlyphs">5.355 / 5.299</text>
<polygon fill="#00bf63" points="43.5,352.6 51.5,352.6 51.5,343.8 56.2,343.8 47.5,335.0 38.8,343.8 43.5,343.8"/>
<text x="68.75" y="375" font-size="17.5" fill="#d9232e" textLength="111.1" lengthAdjust="spacingAndGlyphs">Castilla y León</text>
<text x="184.2" y="375" font-size="17.5" font-weight="700" fill="#d9232e" textLength="124.2" lengthAdjust="spacingAndGlyphs">17.115 / 16.713</text>
<polygon fill="#00bf63" points="43.5,378.9 51.5,378.9 51.5,370.1 56.2,370.1 47.5,361.2 38.8,370.1 43.5,370.1"/>
<text x="68.75" y="400.5" font-size="17.5" fill="#d9232e" textLength="124.1" lengthAdjust="spacingAndGlyphs">Cast-La Mancha</text>
<text x="197.2" y="400.5" font-size="17.5" font-weight="700" fill="#d9232e" textLength="124.5" lengthAdjust="spacingAndGlyphs">13.565 / 13.653</text>
<polygon fill="#e41e42" points="43.9,388.0 52.1,388.0 52.1,396.8 57.0,396.8 48.0,405.6 39.0,396.8 43.9,396.8"/>
<text x="68.75" y="426.5" font-size="17.5" fill="#d9232e" textLength="67.3" lengthAdjust="spacingAndGlyphs">Cataluña</text>
<text x="140.4" y="426.5" font-size="17.5" font-weight="700" fill="#d9232e" textLength="125.0" lengthAdjust="spacingAndGlyphs">38.646 / 40.096</text>
<polygon fill="#e41e42" points="43.9,413.8 52.1,413.8 52.1,422.6 57.0,422.6 48.0,431.4 39.0,422.6 43.9,422.6"/>
<text x="68.75" y="452.5" font-size="17.5" fill="#d9232e" textLength="44.0" lengthAdjust="spacingAndGlyphs">Ceuta</text>
<text x="117.2" y="452.5" font-size="17.5" font-weight="700" fill="#d9232e" textLength="74.5" lengthAdjust="spacingAndGlyphs">586 / 690</text>
<polygon fill="#e41e42" points="43.9,440.5 52.1,440.5 52.1,449.3 57.0,449.3 48.0,458.1 39.0,449.3 43.9,449.3"/>
<text x="68.75" y="478.75" font-size="17.5" fill="#d9232e" textLength="98.1" lengthAdjust="spacingAndGlyphs">Com. Madrid</text>
<text x="171.2" y="478.75" font-size="17.5" font-weight="700" fill="#d9232e" textLength="124.7" lengthAdjust="spacingAndGlyphs">32.651 / 33.234</text>
<polygon fill="#e41e42" points="43.9,466.0 52.1,466.0 52.1,474.8 57.0,474.8 48.0,483.6 39.0,474.8 43.9,474.8"/>
<text x="68.75" y="504.5" font-size="17.5" fill="#d9232e" textLength="104.8" lengthAdjust="spacingAndGlyphs">Com. Navarra</text>
<text x="177.9" y="504.5" font-size="17.5" font-weight="700" fill="#d9232e" textLength="104.5" lengthAdjust="spacingAndGlyphs">3.538 / 3.757</text>
<polygon fill="#e41e42" points="43.9,494.0 52.1,494.0 52.1,502.8 57.0,502.8 48.0,511.6 39.0,502.8 43.9,502.8"/>
<text x="68.75" y="530.5" font-size="17.5" fill="#d9232e" textLength="128.6" lengthAdjust="spacingAndGlyphs">Com. Valenciana</text>
<text x="201.7" y="530.5" font-size="17.5" font-weight="700" fill="#d9232e" textLength="125.5" lengthAdjust="spacingAndGlyphs">23.042 / 22.706</text>
<polygon fill="#00bf63" points="43.5,533.6 51.5,533.6 51.5,524.8 56.2,524.8 47.5,516.0 38.8,524.8 43.5,524.8"/>
<text x="68.75" y="556.5" font-size="17.5" fill="#d9232e" textLength="97.3" lengthAdjust="spacingAndGlyphs">Extremadura</text>
<text x="170.4" y="556.5" font-size="17.5" font-weight="700" fill="#d9232e" textLength="100.5" lengthAdjust="spacingAndGlyphs">9.164 /9.420</text>
<polygon fill="#e41e42" points="43.9,543.0 52.1,543.0 52.1,551.8 57.0,551.8 48.0,560.6 39.0,551.8 43.9,551.8"/>
<text x="68.75" y="582.5" font-size="17.5" fill="#d9232e" textLength="52.3" lengthAdjust="spacingAndGlyphs">Galicia</text>
<text x="125.5" y="582.5" font-size="17.5" font-weight="700" fill="#d9232e" textLength="123.7" lengthAdjust="spacingAndGlyphs">16.736 / 16.528</text>
<polygon fill="#00bf63" points="43.5,586.6 51.5,586.6 51.5,577.8 56.2,577.8 47.5,569.0 38.8,577.8 43.5,577.8"/>
<text x="350" y="300.75" font-size="18.5" fill="#d9232e" textLength="86.1" lengthAdjust="spacingAndGlyphs">I. Baleares</text>
<text x="440.4" y="300.75" font-size="18.5" font-weight="700" fill="#d9232e" textLength="112.5" lengthAdjust="spacingAndGlyphs">5.876 / 6.072</text>
<polygon fill="#e41e42" points="330.4,286.6 338.8,286.6 338.8,295.4 343.8,295.4 334.6,304.2 325.5,295.4 330.4,295.4"/>
<text x="350" y="326.75" font-size="18.5" fill="#d9232e" textLength="87.3" lengthAdjust="spacingAndGlyphs">I. Canarias</text>
<text x="441.7" y="326.75" font-size="18.5" font-weight="700" fill="#d9232e" textLength="133.7" lengthAdjust="spacingAndGlyphs">12.377 / 11.639</text>
<polygon fill="#00bf63" points="330.4,330.2 338.8,330.2 338.8,321.4 343.8,321.4 334.6,312.6 325.5,321.4 330.4,321.4"/>
<text x="350" y="352.5" font-size="18.5" fill="#d9232e" textLength="65.6" lengthAdjust="spacingAndGlyphs">La Rioja</text>
<text x="419.9" y="352.5" font-size="18.5" font-weight="700" fill="#d9232e" textLength="112.5" lengthAdjust="spacingAndGlyphs">1.897 / 1.942</text>
<polygon fill="#e41e42" points="330.4,338.4 338.8,338.4 338.8,347.2 343.8,347.2 334.6,356.0 325.5,347.2 330.4,347.2"/>
<text x="350" y="378.5" font-size="18.5" fill="#d9232e" textLength="53.6" lengthAdjust="spacingAndGlyphs">Melilla</text>
<text x="407.9" y="378.5" font-size="18.5" font-weight="700" fill="#d9232e" textLength="80.5" lengthAdjust="spacingAndGlyphs">637 / 802</text>
<polygon fill="#e41e42" points="330.4,364.4 338.8,364.4 338.8,373.2 343.8,373.2 334.6,382.0 325.5,373.2 330.4,373.2"/>
<text x="350" y="404.5" font-size="18.5" fill="#d9232e" textLength="92.3" lengthAdjust="spacingAndGlyphs">País Vasco</text>
<text x="446.7" y="404.5" font-size="18.5" font-weight="700" fill="#d9232e" textLength="133.7" lengthAdjust="spacingAndGlyphs">14.002 / 14.224</text>
<polygon fill="#e41e42" points="331.2,390.4 339.6,390.4 339.6,399.2 344.5,399.2 335.4,408.0 326.2,399.2 331.2,399.2"/>
<text x="350" y="430.25" font-size="18.5" fill="#d9232e" textLength="67.3" lengthAdjust="spacingAndGlyphs">Asturias</text>
<text x="421.7" y="430.25" font-size="18.5" font-weight="700" fill="#d9232e" textLength="113.2" lengthAdjust="spacingAndGlyphs">7.087 / 7.270</text>
<polygon fill="#e41e42" points="332.9,416.1 341.3,416.1 341.3,424.9 346.2,424.9 337.1,433.8 328.0,424.9 332.9,424.9"/>
<text x="350" y="456.25" font-size="18.5" fill="#d9232e" textLength="56.1" lengthAdjust="spacingAndGlyphs">Murcia</text>
<text x="410.4" y="456.25" font-size="18.5" font-weight="700" fill="#d9232e" textLength="113.0" lengthAdjust="spacingAndGlyphs">9.001 / 9.444</text>
<polygon fill="#e41e42" points="332.9,442.1 341.3,442.1 341.3,450.9 346.2,450.9 337.1,459.8 328.0,450.9 332.9,450.9"/>
<circle cx="88.7" cy="675" r="1.9" fill="#b7c5cd"/>
<text x="116" y="678.7" font-size="14.5" font-weight="700" fill="#b7c5cd" textLength="385.2" lengthAdjust="spacingAndGlyphs">No se incluyen contratos formalizados fuera de España</text>
<rect x="57.6" y="36.5" width="54.8" height="52.9" fill="#fff" stroke="#dde3ec" stroke-width="1.2"/>
<text x="62.8" y="48.8" font-size="4.8" fill="#5f82b3" textLength="43.9" lengthAdjust="spacingAndGlyphs">SERVICIO PÚBLICO</text>
<text x="62.8" y="55.3" font-size="4.8" fill="#5f82b3" textLength="43.9" lengthAdjust="spacingAndGlyphs">DE EMPLEO ESTATAL</text>
<line x1="62.8" y1="60.6" x2="106.7" y2="60.6" stroke="#6d8eb5" stroke-width="0.8"/>
<text x="62" y="80" font-size="21.3" fill="#27569b" stroke="#27569b" stroke-width="0.45" textLength="45.4" lengthAdjust="spacingAndGlyphs">SEPE</text>
<line x1="150" y1="30.5" x2="150" y2="94.5" stroke="#4d4d4d" stroke-width="1.5"/>
<path fill="#1ca673" d="M186.6,43.8 A31.6,31.6 0 0 1 237.8,43.8 L231.0,48.8 A23.2,23.2 0 0 0 193.4,48.8 Z"/>
<path fill="#1ca673" d="M237.8,81.0 A31.6,31.6 0 0 1 186.6,81.0 L193.4,76.0 A23.2,23.2 0 0 0 231.0,76.0 Z"/>
<circle cx="212.79999999999998" cy="63.0" r="12.7" fill="none" stroke="#1ca673" stroke-width="8.5"/>
<g transform="translate(212.79999999999998 63.0) rotate(151)"><rect x="0" y="-3.9" width="34" height="7.8" fill="#fff"/><rect x="16.5" y="-7.4" width="17" height="14.8" fill="#fff"/><rect x="18.3" y="-4.6" width="13.4" height="9.2" fill="#1ca673"/></g>
<text x="251.3" y="55.2" font-size="13.8" fill="#5a5a5a" textLength="82.5" lengthAdjust="spacingAndGlyphs">Observatorio</text>
<text x="251.3" y="69.25" font-size="13.8" fill="#5a5a5a" textLength="35.4" lengthAdjust="spacingAndGlyphs">de las</text>
<text x="251.3" y="83.30000000000001" font-size="13.8" fill="#5a5a5a" textLength="79" lengthAdjust="spacingAndGlyphs">Ocupaciones</text>
<g fill="none" stroke="#d7141c" stroke-width="6.25">
<path d="M924.3,86.3 A16.1,16.1 0 1 1 932.4,74.4"/>
<path d="M941.5,58.1 A16.1,16.1 0 1 1 933.4,70.0"/>
<circle cx="916.5" cy="72.2" r="28.65"/><circle cx="949.3" cy="72.2" r="28.65"/>
</g>
<text x="994" y="64" font-size="23.6" font-weight="700" fill="#d7141c" textLength="115.5" lengthAdjust="spacingAndGlyphs">Fundación</text>
<text x="993.4" y="97.1" font-size="33.9" font-weight="700" fill="#d7141c" stroke="#d7141c" stroke-width="2.6" stroke-linejoin="round" textLength="24.9" lengthAdjust="spacingAndGlyphs">O</text>
<text x="1025.2" y="97.1" font-size="33.9" font-weight="700" fill="#d7141c" stroke="#d7141c" stroke-width="2.6" stroke-linejoin="round" textLength="25.0" lengthAdjust="spacingAndGlyphs">N</text>
<text x="1056.8" y="97.1" font-size="33.9" font-weight="700" fill="#d7141c" stroke="#d7141c" stroke-width="2.6" stroke-linejoin="round" textLength="21.7" lengthAdjust="spacingAndGlyphs">C</text>
<text x="1084" y="97.1" font-size="33.9" font-weight="700" fill="#d7141c" stroke="#d7141c" stroke-width="2.6" stroke-linejoin="round" textLength="26.2" lengthAdjust="spacingAndGlyphs">E</text>
<defs><linearGradient id="sw" x1="1026" y1="0" x2="1146" y2="0" gradientUnits="userSpaceOnUse"><stop offset="0" stop-color="#fae27a" stop-opacity="0.7"/><stop offset="0.2" stop-color="#f8d83a"/><stop offset="1" stop-color="#fbd20c"/></linearGradient></defs>
<path fill="url(#sw)" d="M1107.3,85.8 C1107.3,85.4 1121.5,87.5 1127.2,88.8 C1132.9,90.0 1138.3,91.8 1141.3,93.4 C1144.3,95.0 1145.4,96.3 1145.4,98.1 C1145.4,99.9 1144.3,102.1 1141.3,104.0 C1138.3,105.9 1133.5,107.8 1127.2,109.3 C1120.9,110.8 1113.5,111.9 1103.8,112.8 C1094.0,113.7 1079.3,114.5 1068.6,114.5 C1057.9,114.5 1039.3,112.8 1039.3,112.6 C1039.3,112.4 1058.8,113.5 1068.6,113.3 C1078.4,113.1 1089.1,112.2 1097.9,111.4 C1106.7,110.6 1115.5,109.4 1121.3,108.2 C1127.1,107.0 1130.3,105.5 1133.0,104.0 C1135.7,102.5 1136.7,100.7 1137.2,99.3 C1137.7,97.9 1137.7,97.2 1136.0,95.8 C1134.3,94.4 1132.0,92.8 1127.2,91.1 C1122.4,89.4 1107.3,86.2 1107.3,85.8Z"/>
<path fill="url(#sw)" d="M1109.6,87.9 C1110.2,87.7 1119.3,89.4 1122.5,90.5 C1125.7,91.6 1127.8,93.3 1129.0,94.6 C1130.2,95.9 1130.2,96.8 1129.5,98.1 C1128.8,99.4 1127.5,100.9 1124.8,102.2 C1122.1,103.5 1118.6,104.6 1113.1,105.7 C1107.6,106.8 1100.4,107.9 1092.0,108.7 C1083.6,109.5 1073.6,110.4 1062.7,110.4 C1051.8,110.4 1028.4,108.8 1026.4,108.7 C1024.5,108.6 1042.0,110.0 1051.0,109.9 C1060.0,109.8 1071.9,109.0 1080.3,108.3 C1088.7,107.6 1095.5,106.8 1101.4,105.8 C1107.3,104.8 1112.0,103.7 1115.5,102.5 C1119.0,101.3 1121.2,99.9 1122.5,98.7 C1123.8,97.5 1123.7,96.4 1123.1,95.2 C1122.5,94.0 1121.2,92.9 1119.0,91.7 C1116.8,90.5 1109.0,88.1 1109.6,87.9Z"/>
</svg>
</body></html>
